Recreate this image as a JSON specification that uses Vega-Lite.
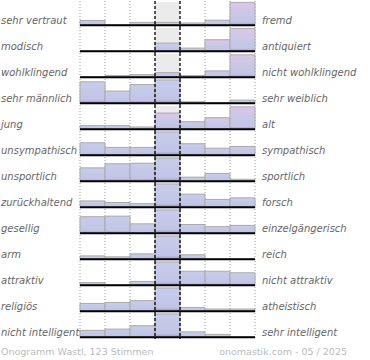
{
  "$schema": "https://vega.github.io/schema/vega-lite/v6.json",
  "padding": {"left": 1, "top": 0, "right": 0, "bottom": 0},
  "background": "white",
  "datasets": {
    "labels": [
      {"r": 0, "l": "sehr vertraut", "rt": "fremd"},
      {"r": 1, "l": "modisch", "rt": "antiquiert"},
      {"r": 2, "l": "wohlklingend", "rt": "nicht wohlklingend"},
      {"r": 3, "l": "sehr männlich", "rt": "sehr weiblich"},
      {"r": 4, "l": "\u00a0jung", "rt": "alt"},
      {"r": 5, "l": "unsympathisch", "rt": "sympathisch"},
      {"r": 6, "l": "unsportlich", "rt": "sportlich"},
      {"r": 7, "l": "zurückhaltend", "rt": "forsch"},
      {"r": 8, "l": "gesellig", "rt": "einzelgängerisch"},
      {"r": 9, "l": "arm", "rt": "reich"},
      {"r": 10, "l": "attraktiv", "rt": "nicht attraktiv"},
      {"r": 11, "l": "religiös", "rt": "atheistisch"},
      {"r": 12, "l": "nicht intelligent", "rt": "sehr intelligent"}
    ],
    "bars": [
      {"r": 0, "bin": 0, "v": 5}, {"r": 0, "bin": 1, "v": 0}, {"r": 0, "bin": 2, "v": 3}, {"r": 0, "bin": 3, "v": 3}, {"r": 0, "bin": 4, "v": 2.3}, {"r": 0, "bin": 5, "v": 5.3}, {"r": 0, "bin": 6, "v": 24.5},
      {"r": 1, "bin": 0, "v": 0}, {"r": 1, "bin": 1, "v": 0}, {"r": 1, "bin": 2, "v": 0}, {"r": 1, "bin": 3, "v": 8.7}, {"r": 1, "bin": 4, "v": 3.3}, {"r": 1, "bin": 5, "v": 12.3}, {"r": 1, "bin": 6, "v": 24.5},
      {"r": 2, "bin": 0, "v": 0}, {"r": 2, "bin": 1, "v": 1.7}, {"r": 2, "bin": 2, "v": 2.7}, {"r": 2, "bin": 3, "v": 4.8}, {"r": 2, "bin": 4, "v": 1.7}, {"r": 2, "bin": 5, "v": 6.7}, {"r": 2, "bin": 6, "v": 24},
      {"r": 3, "bin": 0, "v": 23}, {"r": 3, "bin": 1, "v": 13}, {"r": 3, "bin": 2, "v": 20}, {"r": 3, "bin": 3, "v": 25}, {"r": 3, "bin": 4, "v": 1.5}, {"r": 3, "bin": 5, "v": 0.5}, {"r": 3, "bin": 6, "v": 3.3},
      {"r": 4, "bin": 0, "v": 3.8}, {"r": 4, "bin": 1, "v": 3.8}, {"r": 4, "bin": 2, "v": 2.3}, {"r": 4, "bin": 3, "v": 17.3}, {"r": 4, "bin": 4, "v": 8}, {"r": 4, "bin": 5, "v": 12.3}, {"r": 4, "bin": 6, "v": 24},
      {"r": 5, "bin": 0, "v": 13.3}, {"r": 5, "bin": 1, "v": 8.3}, {"r": 5, "bin": 2, "v": 8.3}, {"r": 5, "bin": 3, "v": 25}, {"r": 5, "bin": 4, "v": 12.3}, {"r": 5, "bin": 5, "v": 7.5}, {"r": 5, "bin": 6, "v": 9.3},
      {"r": 6, "bin": 0, "v": 14.3}, {"r": 6, "bin": 1, "v": 18.7}, {"r": 6, "bin": 2, "v": 19.3}, {"r": 6, "bin": 3, "v": 25}, {"r": 6, "bin": 4, "v": 4.3}, {"r": 6, "bin": 5, "v": 8.3}, {"r": 6, "bin": 6, "v": 2},
      {"r": 7, "bin": 0, "v": 6.7}, {"r": 7, "bin": 1, "v": 5}, {"r": 7, "bin": 2, "v": 3.7}, {"r": 7, "bin": 3, "v": 25}, {"r": 7, "bin": 4, "v": 14}, {"r": 7, "bin": 5, "v": 8.3}, {"r": 7, "bin": 6, "v": 10},
      {"r": 8, "bin": 0, "v": 17.7}, {"r": 8, "bin": 1, "v": 18.3}, {"r": 8, "bin": 2, "v": 10}, {"r": 8, "bin": 3, "v": 25}, {"r": 8, "bin": 4, "v": 9.3}, {"r": 8, "bin": 5, "v": 7}, {"r": 8, "bin": 6, "v": 8.3},
      {"r": 9, "bin": 0, "v": 3.5}, {"r": 9, "bin": 1, "v": 2.5}, {"r": 9, "bin": 2, "v": 5.7}, {"r": 9, "bin": 3, "v": 25}, {"r": 9, "bin": 4, "v": 4.7}, {"r": 9, "bin": 5, "v": 0}, {"r": 9, "bin": 6, "v": 0},
      {"r": 10, "bin": 0, "v": 2.7}, {"r": 10, "bin": 1, "v": 0}, {"r": 10, "bin": 2, "v": 4}, {"r": 10, "bin": 3, "v": 25}, {"r": 10, "bin": 4, "v": 15}, {"r": 10, "bin": 5, "v": 15}, {"r": 10, "bin": 6, "v": 13.3},
      {"r": 11, "bin": 0, "v": 8.3}, {"r": 11, "bin": 1, "v": 9.3}, {"r": 11, "bin": 2, "v": 11.3}, {"r": 11, "bin": 3, "v": 25}, {"r": 11, "bin": 4, "v": 4}, {"r": 11, "bin": 5, "v": 2.3}, {"r": 11, "bin": 6, "v": 2.3},
      {"r": 12, "bin": 0, "v": 7.3}, {"r": 12, "bin": 1, "v": 8.7}, {"r": 12, "bin": 2, "v": 12.3}, {"r": 12, "bin": 3, "v": 25}, {"r": 12, "bin": 4, "v": 5.7}, {"r": 12, "bin": 5, "v": 3}, {"r": 12, "bin": 6, "v": 0}
    ]
  },
  "data": {"name": "bars"},
  "transform": [
    {"lookup": "r", "from": {"data": {"name": "labels"}, "key": "r", "fields": ["l", "rt"]}}
  ],
  "facet": {"row": {"field": "r", "type": "ordinal", "header": null}},
  "spacing": 0,
  "bounds": "flush",
  "spec": {
    "width": 175,
    "height": 26,
    "layer": [
      {
        "transform": [{"filter": "datum.bin == 3"}],
        "mark": {"type": "rect", "fill": "#ebebeb"},
        "encoding": {
          "x": {"field": "bin", "type": "ordinal", "scale": {"domain": [0, 1, 2, 3, 4, 5, 6], "paddingInner": 0, "paddingOuter": 0}, "axis": null},
          "y": {"datum": 25, "type": "quantitative", "scale": {"domain": [-1, 25]}, "axis": null},
          "y2": {"datum": -1}
        }
      },
      {
        "transform": [{"filter": "datum.bin != 3 && datum.bin != 4"}],
        "mark": {"type": "rule", "stroke": "#9a9a9a", "strokeWidth": 1, "strokeDash": [1, 2]},
        "encoding": {
          "x": {"field": "bin", "type": "ordinal", "bandPosition": 0, "axis": null}
        }
      },
      {
        "transform": [{"filter": "datum.bin == 6"}],
        "mark": {"type": "rule", "stroke": "#9a9a9a", "strokeWidth": 1, "strokeDash": [1, 2]},
        "encoding": {
          "x": {"field": "bin", "type": "ordinal", "bandPosition": 1, "axis": null}
        }
      },
      {
        "mark": {"type": "rect", "stroke": "#aaaaaa", "strokeWidth": 1},
        "encoding": {
          "x": {"field": "bin", "type": "ordinal", "axis": null},
          "y": {"field": "v", "type": "quantitative", "axis": null},
          "y2": {"datum": 0},
          "fill": {
            "condition": {
              "test": "indexof([0, 1, 2, 4], datum.r) >= 0 && datum.v >= 12",
              "value": {"gradient": "linear", "x1": 0, "y1": 1, "x2": 0, "y2": 0,
                "stops": [{"offset": 0, "color": "#9d90c6"}, {"offset": 0.12, "color": "#c2c4e6"}, {"offset": 0.5, "color": "#c8c8e8"}, {"offset": 1, "color": "#dec6e6"}]}
            },
            "value": {"gradient": "linear", "x1": 0, "y1": 1, "x2": 0, "y2": 0,
              "stops": [{"offset": 0, "color": "#9d90c6"}, {"offset": 0.15, "color": "#c0c4e6"}, {"offset": 1, "color": "#c8cdea"}]}
          }
        }
      },
      {
        "transform": [{"filter": "datum.bin == 0"}],
        "mark": {"type": "rule", "stroke": "#000000", "strokeWidth": 2},
        "encoding": {
          "y": {"datum": 0, "type": "quantitative", "axis": null}
        }
      },
      {
        "transform": [{"filter": "datum.bin == 3 || datum.bin == 4"}],
        "mark": {"type": "rule", "stroke": "#000000", "strokeWidth": 1.3, "strokeDash": [3, 2]},
        "encoding": {
          "x": {"field": "bin", "type": "ordinal", "bandPosition": 0, "axis": null}
        }
      },
      {
        "transform": [{"filter": "datum.bin == 0"}],
        "mark": {"type": "text", "align": "left", "baseline": "alphabetic", "dx": -79, "font": "DejaVu Sans", "fontSize": 10, "fontStyle": "italic", "fill": "#666666"},
        "encoding": {
          "x": {"field": "bin", "type": "ordinal", "bandPosition": 0, "axis": null},
          "y": {"datum": 1, "type": "quantitative", "axis": null},
          "text": {"field": "l"}
        }
      },
      {
        "transform": [{"filter": "datum.bin == 6"}],
        "mark": {"type": "text", "align": "left", "baseline": "alphabetic", "dx": 7, "font": "DejaVu Sans", "fontSize": 10, "fontStyle": "italic", "fill": "#666666"},
        "encoding": {
          "x": {"field": "bin", "type": "ordinal", "bandPosition": 1, "axis": null},
          "y": {"datum": 1, "type": "quantitative", "axis": null},
          "text": {"field": "rt"}
        }
      },
      {
        "transform": [{"filter": "datum.r == 12 && datum.bin == 0"}],
        "mark": {"type": "text", "align": "left", "baseline": "alphabetic", "dx": -79, "font": "DejaVu Sans", "fontSize": 9.5, "fill": "#bbbbbb"},
        "encoding": {
          "x": {"field": "bin", "type": "ordinal", "bandPosition": 0, "axis": null},
          "y": {"datum": -19, "type": "quantitative", "axis": null},
          "text": {"value": "Onogramm Wastl, 123 Stimmen"}
        }
      },
      {
        "transform": [{"filter": "datum.r == 12 && datum.bin == 6"}],
        "mark": {"type": "text", "align": "right", "baseline": "alphabetic", "dx": 92, "font": "DejaVu Sans", "fontSize": 9.5, "fill": "#bbbbbb"},
        "encoding": {
          "x": {"field": "bin", "type": "ordinal", "bandPosition": 1, "axis": null},
          "y": {"datum": -19, "type": "quantitative", "axis": null},
          "text": {"value": "onomastik.com - 05 / 2025"}
        }
      }
    ]
  },
  "config": {"view": {"stroke": null}}
}
